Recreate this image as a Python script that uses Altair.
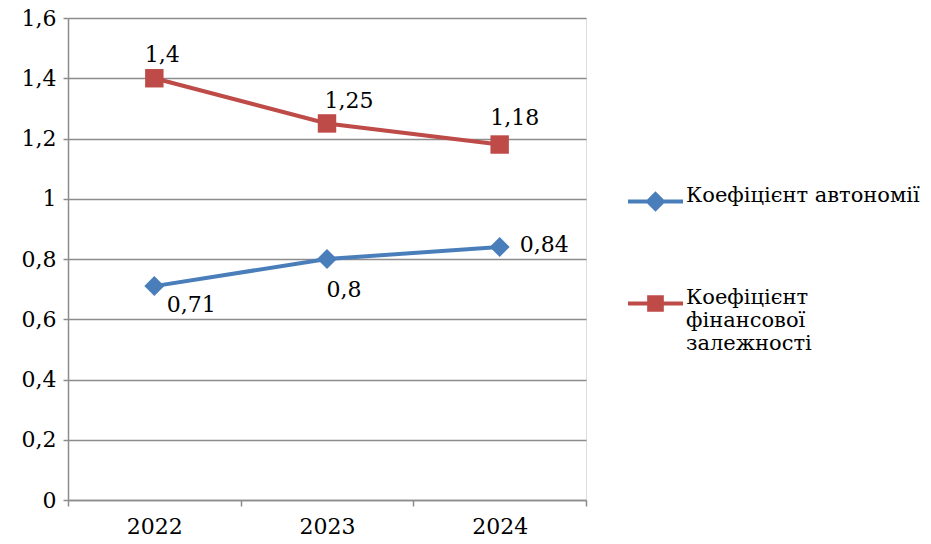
import altair as alt
import pandas as pd

years = ["2022", "2023", "2024"]
series_names = ["Коефіцієнт автономії", "Коефіцієнт фінансової залежності"]
autonomy = [0.71, 0.80, 0.84]
dependence = [1.40, 1.25, 1.18]
y_ticks = [0, 0.2, 0.4, 0.6, 0.8, 1.0, 1.2, 1.4, 1.6]
colors = ["#4A7EBB", "#BE4B48"]

rows = []
for yr, v in zip(years, autonomy):
    rows.append({"year": yr, "series": series_names[0], "value": v})
for yr, v in zip(years, dependence):
    rows.append({"year": yr, "series": series_names[1], "value": v})
df = pd.DataFrame(rows)

FONT = "DejaVu Serif"
FS = 22
LFS = 21

x_enc = alt.X("year:O", scale=alt.Scale(type="band", paddingInner=0, paddingOuter=0, domain=years),
              bandPosition=0.5,
              axis=alt.Axis(title=None, tickBand="extent", labelAngle=0, labelFontSize=FS, labelFont=FONT,
                            labelColor="black", domainColor="#8C8C8C", tickColor="#8C8C8C", tickSize=6,
                            domainWidth=1.5, tickWidth=1.5, labelPadding=10, grid=False))
y_enc = alt.Y("value:Q", scale=alt.Scale(domain=[0, 1.6], nice=False),
              axis=alt.Axis(title=None, values=y_ticks, labelExpr="replace(format(datum.value, '.2~f'), '.', ',')",
                            labelFontSize=FS, labelFont=FONT, labelColor="black", grid=True,
                            gridColor="#8C8C8C", gridWidth=1.5, domainColor="#8C8C8C", domainWidth=1.5,
                            tickColor="#8C8C8C", tickWidth=1.5, tickSize=5, labelPadding=7))

legend = alt.Legend(title=None, orient="none", legendX=558, legendY=154, padding=0,
                    labelFont=FONT, labelFontSize=LFS, labelColor="black",
                    labelLimit=400, labelOffset=1, rowPadding=57,
                    symbolSize=3025, symbolStrokeWidth=4, labelBaseline="alphabetic",
                    labelExpr="datum.label == 'Коефіцієнт фінансової залежності' ? ['Коефіцієнт', 'фінансової', 'залежності'] : datum.label")
color_scale = alt.Scale(domain=series_names, range=colors)
color_enc = alt.Color("series:N", scale=color_scale, legend=legend)

base = alt.Chart(df).encode(x=x_enc, y=y_enc)

lines = base.mark_line(strokeWidth=4).encode(color=color_enc)

pts_a = base.transform_filter(alt.datum.series == series_names[0]).mark_point(
    shape="diamond", filled=True, size=400, opacity=1).encode(color=color_enc)
pts_b = base.transform_filter(alt.datum.series == series_names[1]).mark_point(
    shape="square", filled=True, size=340, opacity=1).encode(color=color_enc)

# label placement styling (offsets per point)
label_styles = [
    (series_names[1], "2022", "center", 8, -23),
    (series_names[1], "2023", "center", 22, -22),
    (series_names[1], "2024", "center", 15, -27),
    (series_names[0], "2022", "center", 37, 19),
    (series_names[0], "2023", "center", 17, 31),
    (series_names[0], "2024", "left", 20, -2),
]
label_layers = []
for s, yr, al, dx, dy in label_styles:
    label_layers.append(
        base.transform_filter((alt.datum.series == s) & (alt.datum.year == yr))
        .transform_calculate(lbl="replace(format(datum.value, '.2~f'), '.', ',')")
        .mark_text(font=FONT, fontSize=FS, color="black", align=al, baseline="middle", dx=dx, dy=dy)
        .encode(text="lbl:N")
    )

leg_a = "M-1,0H-0.27M0.27,0H1M0,-0.27L0.27,0L0,0.27L-0.27,0Z"
leg_b = "M-1,0H-0.23M0.23,0H1M-0.23,-0.23H0.23V0.23H-0.23Z"

legend_layer = base.transform_filter("false").mark_point(filled=True, size=3025, strokeWidth=4).encode(
    color=color_enc,
    shape=alt.Shape("series:N", scale=alt.Scale(domain=series_names, range=[leg_a, leg_b]), legend=legend),
    stroke=alt.Stroke("series:N", scale=color_scale, legend=legend),
)

chart = alt.layer(lines, pts_a, pts_b, *label_layers, legend_layer).properties(
    width=518, height=482,
    autosize=alt.AutoSizeParams(type="none"),
    padding={"left": 68, "top": 18, "right": 345, "bottom": 44},
).configure_view(stroke=None).configure(background="white")

chart.save("out.html", embed_options={"renderer": "svg", "actions": False})
